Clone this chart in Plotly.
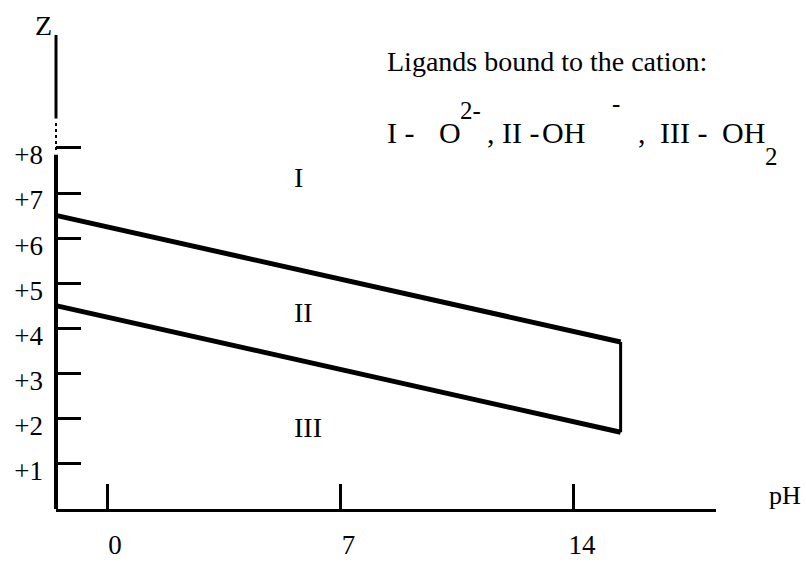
import plotly.graph_objects as go

# Boundary lines between ligand domains: charge Z versus pH
ph_ends = [-1.5, 15.4]
z_upper = [6.5, 3.7]   # I (O2-) / II (OH-) boundary
z_lower = [4.5, 1.7]   # II (OH-) / III (OH2) boundary

x_ticks = [0, 7, 14]
x_tick_text = ["0", "7", "14"]
y_ticks = [1, 2, 3, 4, 5, 6, 7, 8]
y_tick_text = ["+1", "+2", "+3", "+4", "+5", "+6", "+7", "+8"]

region_names = ["I", "II", "III"]
region_ph = [5.73, 5.88, 6.03]
region_z = [7.34, 4.36, 1.80]

FONT = "Liberation Serif"
BLACK = "#000000"

W, H = 806, 572
M_L, M_R, M_T, M_B = 56, 90, 35, 46
PLOT_W = W - M_L - M_R
PLOT_H = H - M_T - M_B


def paper_x(px):
    return (px - M_L) / PLOT_W


def paper_y(py):
    return (H - M_B - py) / PLOT_H


def label(txt, px, py, size, xanchor="center"):
    fig.add_annotation(xref="paper", yref="paper", x=paper_x(px), y=paper_y(py),
                       xanchor=xanchor, yanchor="middle", text=txt, showarrow=False,
                       font=dict(family=FONT, size=size, color=BLACK))


fig = go.Figure()

fig.add_trace(go.Scatter(x=ph_ends, y=z_upper, mode="lines",
                         line=dict(color=BLACK, width=5), hoverinfo="skip"))
fig.add_trace(go.Scatter(x=ph_ends, y=z_lower, mode="lines",
                         line=dict(color=BLACK, width=5), hoverinfo="skip"))
# closing edge at the high-pH end of the band
fig.add_trace(go.Scatter(x=[ph_ends[1], ph_ends[1]], y=[z_upper[1], z_lower[1]],
                         mode="lines", line=dict(color=BLACK, width=3), hoverinfo="skip"))

for name, px, pz in zip(region_names, region_ph, region_z):
    fig.add_annotation(x=px, y=pz, text=name, showarrow=False,
                       xanchor="center", yanchor="middle",
                       font=dict(family=FONT, size=28, color=BLACK))

# vertical Z axis, drawn in pieces (solid / dotted / thinner top)
fig.add_shape(type="line", xref="paper", yref="y", x0=0, x1=0, y0=0, y1=7.85,
              line=dict(color=BLACK, width=4))
fig.add_shape(type="line", xref="paper", yref="y", x0=0, x1=0, y0=7.95, y1=8.55,
              line=dict(color=BLACK, width=2, dash="dot"))
fig.add_shape(type="line", xref="paper", yref="y", x0=0, x1=0, y0=8.65, y1=10.5,
              line=dict(color=BLACK, width=3))

label("Z", 43, 25, 28)
label("pH", 785, 512, 26)
label("Ligands bound to the cation:", 385, 62, 28, xanchor="left")

# ligand key: main text pieces, then raised / lowered charge and count marks
key_main = [("I -", 385), ("O", 437), (",", 485), ("II -", 500), ("OH", 540),
            (",", 636), ("III -", 658), ("OH", 720)]
for txt, px in key_main:
    label(txt, px, 136, 30, xanchor="left")
key_marks = [("2-", 458, 113), ("-", 610, 106), ("2", 763, 161)]
for txt, px, py in key_marks:
    label(txt, px, py, 25, xanchor="left")

fig.update_layout(
    width=W, height=H,
    margin=dict(l=M_L, r=M_R, t=M_T, b=M_B),
    paper_bgcolor="white", plot_bgcolor="white",
    showlegend=False,
    font=dict(family=FONT, color=BLACK),
)

fig.update_xaxes(
    range=[-1.53, 18.26], showgrid=False, zeroline=False,
    showline=True, linecolor=BLACK, linewidth=3,
    tickmode="array", tickvals=x_ticks, ticktext=x_tick_text,
    ticks="inside", ticklen=25, tickwidth=3, tickcolor=BLACK,
    tickfont=dict(family=FONT, size=27, color=BLACK),
    ticklabelstandoff=10, ticklabelshift=8,
)
fig.update_yaxes(
    range=[0, 10.5], showgrid=False, zeroline=False, showline=False,
    tickmode="array", tickvals=y_ticks, ticktext=y_tick_text,
    ticks="inside", ticklen=25, tickwidth=3, tickcolor=BLACK,
    tickfont=dict(family=FONT, size=27, color=BLACK),
    ticklabelstandoff=12, ticklabelshift=7,
)

fig.write_html("out.html")
